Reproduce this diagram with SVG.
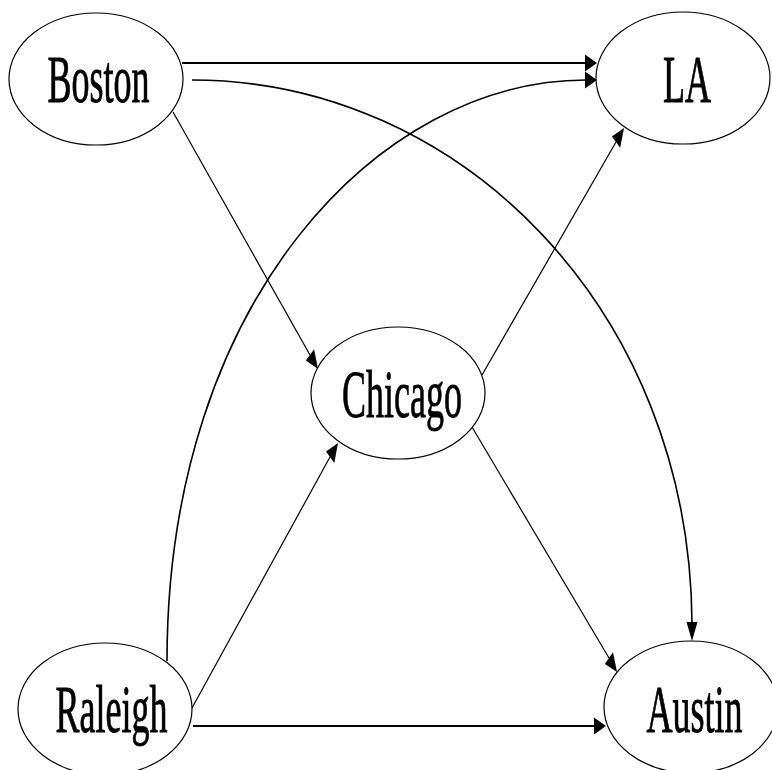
<svg xmlns="http://www.w3.org/2000/svg" width="772" height="770" viewBox="0 0 772 770">
  <style>
    .node ellipse { fill: #ffffff; stroke: #000000; stroke-width: 1.2; }
    .node text { font-family: "Liberation Serif", "Times New Roman", serif; font-size: 36px; fill: #000000; stroke: #000000; stroke-width: 0.45; text-anchor: middle; }
    .edge { fill: none; stroke: #000000; }
    .thin { stroke-width: 1.2; }
    .mid { stroke-width: 1.6; }
    .thick { stroke-width: 2; }
    .head { fill: #000000; stroke: none; }
  </style>
  <rect width="772" height="770" fill="#ffffff"/>

  <g id="connectors">
    <!-- Boston -> LA -->
    <line class="edge thick" x1="182" y1="63" x2="586" y2="63"/>
    <polygon class="head" points="597,63 585,54.4 585,71.6"/>
    <!-- Boston -> Austin -->
    <path class="edge mid" d="M192,80 C460,80 690,310 692,623"/>
    <polygon class="head" points="692,641 686.5,622 697.5,622"/>
    <!-- Raleigh -> LA -->
    <path class="edge mid" d="M167,661 C167,300 380,80 586,80"/>
    <polygon class="head" points="597,80 585,71.4 585,88.6"/>
    <!-- Boston -> Chicago -->
    <line class="edge thin" x1="173" y1="112" x2="310" y2="355"/>
    <polygon class="head" points="318,369 305.9,360.6 314.1,349.2"/>
    <!-- Raleigh -> Chicago -->
    <line class="edge thin" x1="192" y1="708" x2="330" y2="457"/>
    <polygon class="head" points="338,443 334.3,462.9 326,451.6"/>
    <!-- Chicago -> LA -->
    <line class="edge thin" x1="482" y1="375" x2="616" y2="142"/>
    <polygon class="head" points="624,128 620.2,147.8 611.9,136.4"/>
    <!-- Chicago -> Austin -->
    <line class="edge thin" x1="472" y1="427" x2="609" y2="658"/>
    <polygon class="head" points="617,672 604.9,663.9 613,652.3"/>
    <!-- Raleigh -> Austin -->
    <line class="edge thick" x1="193" y1="726" x2="595" y2="726"/>
    <polygon class="head" points="606,726 594,717.4 594,734.6"/>
  </g>

  <g id="node-boston" class="node">
    <ellipse cx="96" cy="79" rx="87" ry="66"/>
    <text transform="translate(98.5,102) scale(1,1.85)">Boston</text>
  </g>
  <g id="node-la" class="node">
    <ellipse cx="683" cy="78" rx="87" ry="66"/>
    <text transform="translate(687,102) scale(1,1.85)">LA</text>
  </g>
  <g id="node-chicago" class="node">
    <ellipse cx="398" cy="393" rx="87" ry="66"/>
    <text transform="translate(402,417) scale(1,1.85)">Chicago</text>
  </g>
  <g id="node-raleigh" class="node">
    <ellipse cx="105" cy="709" rx="87" ry="66"/>
    <text transform="translate(111.5,732) scale(1,1.85)">Raleigh</text>
  </g>
  <g id="node-austin" class="node">
    <ellipse cx="691" cy="707" rx="87" ry="66"/>
    <text transform="translate(694.5,732) scale(1,1.85)">Austin</text>
  </g>
</svg>
